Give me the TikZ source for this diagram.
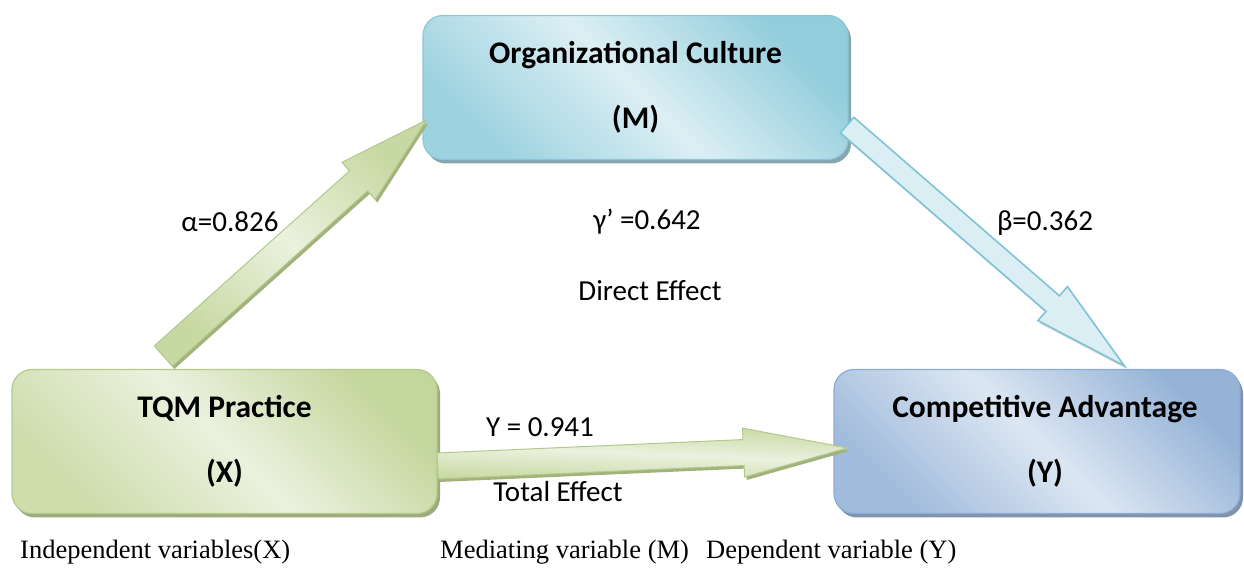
\documentclass[tikz,border=0pt]{standalone}
\usepackage{fontspec}
\setmainfont{Liberation Serif}
\newfontfamily\calibri{Carlito}
\usetikzlibrary{calc,shadows}

% box colours
\definecolor{mdark}{HTML}{92CDDC}
\definecolor{mlight}{HTML}{DCEFF4}
\definecolor{mline}{HTML}{8CC6D7}
\definecolor{mshade}{HTML}{86A5AF}
\definecolor{xdark}{HTML}{C3D69B}
\definecolor{xlight}{HTML}{EBF1DE}
\definecolor{xline}{HTML}{B6CB8B}
\definecolor{xshade}{HTML}{9CAB7E}
\definecolor{ydark}{HTML}{95B3D7}
\definecolor{ylight}{HTML}{DCE6F2}
\definecolor{yline}{HTML}{8EABD6}
\definecolor{yshade}{HTML}{8093AB}
% arrow colours
\definecolor{gline}{HTML}{B3C98A}
\definecolor{gshade}{HTML}{A2B27D}
\definecolor{bline}{HTML}{7FC3D6}
\definecolor{bfill}{HTML}{DAEEF3}

% block arrow: name, style, tail, tip, shaft half width, head half width, head length
\newcommand\blockarrow[7]{%
  \coordinate (#1-n) at ($(#4)!#7!(#3)$);
  \path[#2] ($(#3)!#5!90:(#4)$) -- ($(#1-n)!#5!90:(#4)$) -- ($(#1-n)!#6!90:(#4)$)
    -- (#4) -- ($(#1-n)!#6!-90:(#4)$) -- ($(#1-n)!#5!-90:(#4)$)
    -- ($(#3)!#5!-90:(#4)$) -- cycle;
}

\tikzset{
  varbox/.style={rounded corners=20pt, inner sep=0pt, align=center,
    minimum height=144pt, line width=1.2pt,
    font=\calibri\bfseries\fontsize{31.5}{65}\selectfont},
  mbox/.style={varbox, minimum width=425pt, draw=mline,
    left color=mdark!85!mlight, right color=mdark, middle color=mlight, shading angle=135,
    drop shadow={shadow xshift=3pt, shadow yshift=-4pt, fill=mshade, opacity=1}},
  xbox/.style={varbox, minimum width=425pt, draw=xline,
    left color=xdark!75!xlight, right color=xdark, middle color=xlight, shading angle=135,
    drop shadow={shadow xshift=3pt, shadow yshift=-4pt, fill=xshade, opacity=1}},
  ybox/.style={varbox, minimum width=406pt, draw=yline,
    left color=ydark!85!ylight, right color=ydark, middle color=ylight, shading angle=135,
    drop shadow={shadow xshift=3pt, shadow yshift=-4pt, fill=yshade, opacity=1}},
  greenarrow/.style={draw=gline, line width=1pt, line join=miter,
    top color=xdark!90!xlight, bottom color=xdark!90!xlight, middle color=xlight,
    drop shadow={shadow xshift=2pt, shadow yshift=-3pt, fill=gshade, opacity=1}},
  bluearrow/.style={draw=bline, line width=1.6pt, line join=miter, fill=bfill,
    drop shadow={shadow xshift=2pt, shadow yshift=-3pt, fill=black!25, opacity=0.6}},
  coef/.style={font=\calibri\fontsize{29}{34}\selectfont, inner sep=0pt},
  role/.style={font=\fontsize{26.5}{30}\selectfont, inner sep=0pt, anchor=base west},
}

\begin{document}
\begin{tikzpicture}[x=1pt, y=1pt]
\useasboundingbox (0,0) rectangle (1244,577);

% variables
\node[mbox] (M) at (635.5,489.5) {Organizational Culture\\(M)};
\node[xbox] (X) at (224.5,135.5) {TQM Practice\\(X)};
\node[ybox] (Y) at (1037,135.5) {\hspace*{16pt}Competitive Advantage\\\hspace*{16pt}(Y)};

% arrow ends
\coordinate (xm-tail) at ($(X.north west)+(152,13)$);
\coordinate (xm-tip)  at ($(M.south west)+(4,40)$);
\coordinate (my-tail) at ($(M.south east)+(-1.5,35)$);
\coordinate (my-tip)  at ($(Y.north west)+(291,3)$);
\coordinate (xy-tail) at ($(X.east)+(0,-24.5)$);
\coordinate (xy-tip)  at ($(Y.west)+(14,-6.5)$);

% paths
\blockarrow{xm}{greenarrow, shading angle=-42}{xm-tail}{xm-tip}{13.5pt}{25pt}{91pt}
\blockarrow{my}{bluearrow}{my-tail}{my-tip}{10.3pt}{22.5pt}{95pt}
\blockarrow{xy}{greenarrow, shading angle=-2.5}{xy-tail}{xy-tip}{13pt}{24.5pt}{104pt}

% coefficients
\node[coef] (alpha) at (230,355) {α=0.826};
\node[coef] (gamma) at (647,355) {γ’ =0.642};
\node[coef] (direct) at (650,286) {Direct Effect};
\node[coef] (beta) at (1045,354) {β=0.362};
\node[coef] (total) at (540,150) {Y = 0.941};
\node[coef] (totaleff) at (558,85) {Total Effect};

% roles
\node[role] (indep) at (20,18) {Independent variables(X)};
\node[role] (medi) at (440,18) {Mediating variable (M)};
\node[role] (dep) at (706,18) {Dependent variable (Y)};
\end{tikzpicture}
\end{document}
